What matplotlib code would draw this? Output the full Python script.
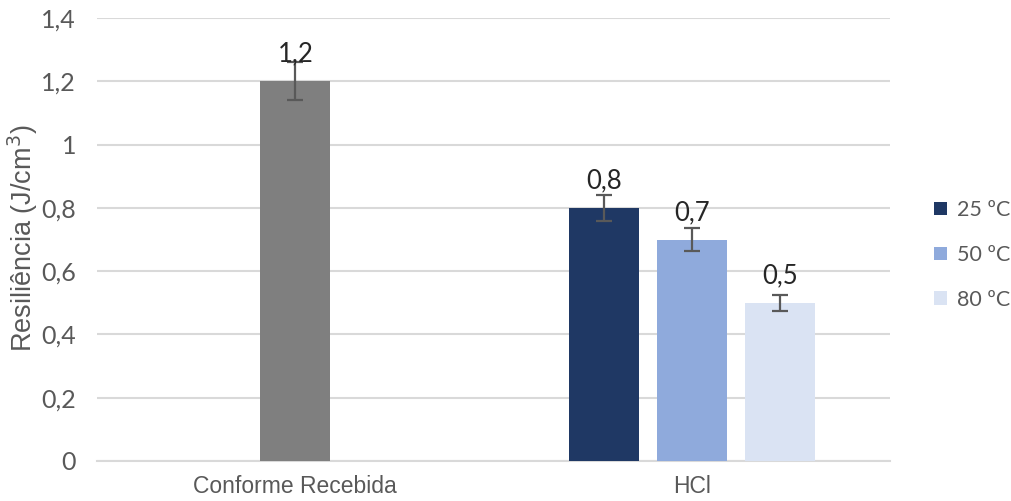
import matplotlib
matplotlib.use("Agg")
import matplotlib.pyplot as plt
from matplotlib.patches import Patch

categories = ["Conforme Recebida", "HCl"]
ref_value = 1.2
ref_err = 0.06
series_labels = ["25 ºC", "50 ºC", "80 ºC"]
hcl_values = [0.8, 0.7, 0.5]
hcl_errs = [0.04, 0.035, 0.025]
yticks = [0, 0.2, 0.4, 0.6, 0.8, 1.0, 1.2, 1.4]
ytick_labels = ["0", "0,2", "0,4", "0,6", "0,8", "1", "1,2", "1,4"]

gray = "#7f7f7f"
colors = ["#1f3864", "#8faadc", "#dae3f3"]
txt = "#595959"
numfont = "Lato"
labfont = "Liberation Sans"

fig = plt.figure(figsize=(10.11, 5.01), dpi=100)
ax = fig.add_axes([97/1011, 1-461/501, (890-97)/1011, (461-18)/501])

w = 0.176
off = 0.222
err_kw = dict(ecolor="#595959", elinewidth=1.6, capsize=6, capthick=1.6)

ax.bar(0, ref_value, w, color=gray, yerr=ref_err, error_kw=err_kw, zorder=3)
ax.annotate(f"{ref_value:.1f}".replace(".", ","), (0, ref_value), xytext=(0, 19.5), textcoords="offset points",
            ha="center", va="center", fontsize=18.5, color="#262626", family=numfont, zorder=5)

handles = []
for i, (v, e, c, lab) in enumerate(zip(hcl_values, hcl_errs, colors, series_labels)):
    x = 1 + (i - 1) * off
    ax.bar(x, v, w, color=c, yerr=e, error_kw=err_kw, zorder=3)
    ax.annotate(f"{v:.1f}".replace(".", ","), (x, v), xytext=(0, 19.5), textcoords="offset points",
                ha="center", va="center", fontsize=18.5, color="#262626", family=numfont, zorder=5)
    handles.append(Patch(facecolor=c, label=lab))

ax.set_xlim(-0.5, 1.5)
ax.set_ylim(0, 1.4)
ax.set_yticks(yticks)
ax.set_yticklabels(ytick_labels, fontsize=18, color=txt, family=numfont)
ax.set_xticks([0, 1])
ax.set_xticklabels(categories, fontsize=16.5, color=txt, family=labfont)
ax.tick_params(axis="both", length=0)
ax.tick_params(axis="x", pad=10)
ax.tick_params(axis="y", pad=15)
ax.grid(axis="y", color="#d9d9d9", linewidth=1.5, zorder=0)
ax.set_axisbelow(True)
for s in ["top", "right", "left"]:
    ax.spines[s].set_visible(False)
ax.spines["bottom"].set_color("#d9d9d9")
ax.spines["bottom"].set_linewidth(1.5)

fig.text(23/1011, 1-238/501, "Resiliência (J/cm$^3$)", rotation=90, ha="center", va="center",
         fontsize=19.5, color=txt, family=labfont)

leg = fig.legend(handles=handles, loc="center left", bbox_to_anchor=(934/1011, 1-255/501),
                 frameon=False, labelspacing=1.15, handlelength=0.6, handleheight=0.6,
                 handletextpad=0.45, borderpad=0, borderaxespad=0, labelcolor=txt,
                 prop={"family": numfont, "size": 15.5})

fig.savefig("out.png", dpi=100)
